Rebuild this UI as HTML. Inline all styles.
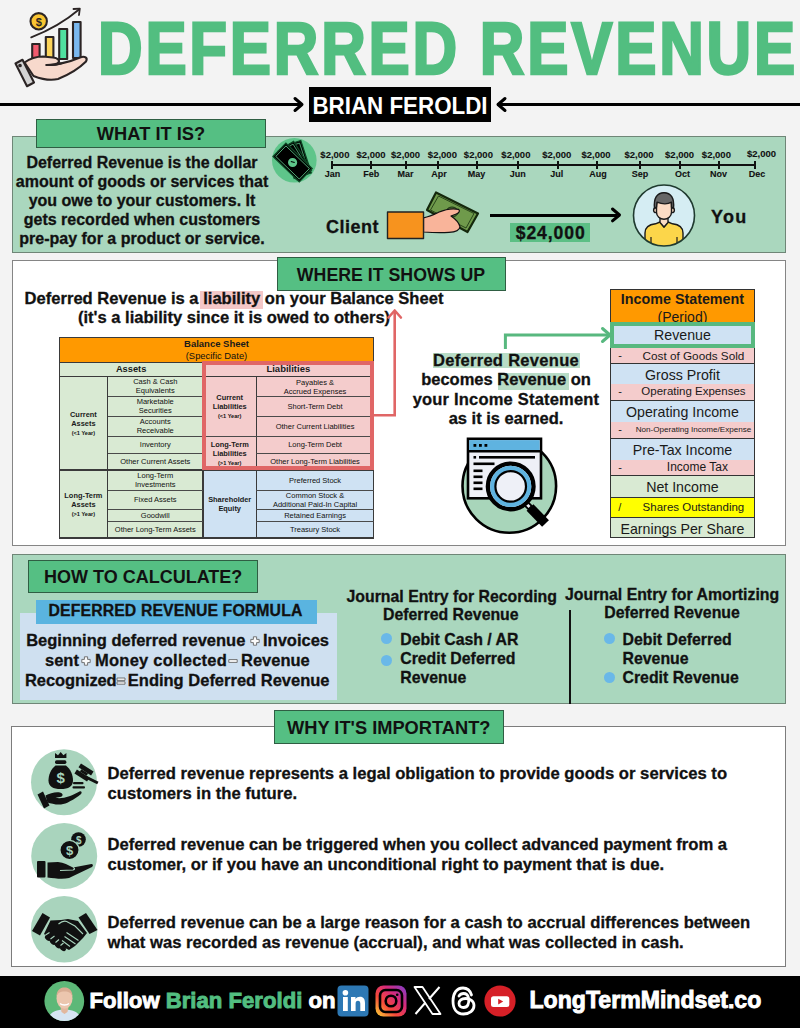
<!DOCTYPE html>
<html><head><meta charset="utf-8">
<style>
*{margin:0;padding:0;box-sizing:border-box}
html,body{width:800px;height:1028px;overflow:hidden}
body{position:relative;background:#f3f3f3;font-family:"Liberation Sans",sans-serif;color:#111}
.a{position:absolute}
.t{position:absolute;white-space:nowrap;font-weight:700}
.sec{position:absolute;border:1.5px solid #7c7c7c}
.hdr{position:absolute;background:#55bf83;border:1.5px solid #2f5e43;font-weight:700;text-align:center;color:#111;white-space:nowrap}
svg{position:absolute;overflow:visible}
.t{-webkit-text-stroke:0.3px currentColor}

</style></head><body>

<svg style="left:0;top:0" width="100" height="92" viewBox="0 0 100 92">
 <g stroke="#2b2424" stroke-width="2.1" stroke-linejoin="round" stroke-linecap="round">
  <rect x="32.2" y="44" width="7.4" height="14" fill="#f25a6e"/>
  <rect x="45.8" y="37" width="7.6" height="21" fill="#fcd45a"/>
  <rect x="59.2" y="29" width="8" height="30" fill="#4fe0a0"/>
  <rect x="73" y="22" width="7.6" height="36" fill="#7ab8ef"/>
  <path d="M24.5 62.5 C30 58.5 36 56.5 43 56.5 L53 57.5 C58 58 60 60.5 58.5 62.5 C57 64.5 52 65 46.5 65 C54 65.5 70 62 80 57.5 C85 55.5 88 58 86 61.5 C80 67.5 68 75 58 79 C50 81 40 78.5 33.5 76 Z" fill="#f7d9cc"/>
  <path d="M46.5 65 C52 65.2 58 64.5 61 63.5" fill="none"/>
  <path d="M15.5 63.5 L22.5 59.8 L34 82.5 L27 86.2 Z" fill="#d3d3d3"/>
  <circle cx="20" cy="65.5" r="0.8" fill="#2b2424"/>
  <circle cx="38.7" cy="21.3" r="8.2" fill="#f9c431"/>
  <path d="M31.2 37.4 C45 32 62 24 79 9.5" fill="none" stroke-width="1.8"/>
  <path d="M73.5 9 L79.8 8.6 L79 15" fill="none" stroke-width="1.8"/>
 </g>
 <text x="38.7" y="25.5" font-family="Liberation Sans" font-weight="700" font-size="11" text-anchor="middle" fill="#2b2424">$</text>
</svg>
<div class="t" id="title" style="left:97.5px;top:5.6px;font-size:74px;color:#52be80;transform-origin:0 0;transform:scaleX(0.835);letter-spacing:3.3px;-webkit-text-stroke:2.6px #52be80">DEFERRED REVENUE</div>
<div class="a" style="left:0;top:102.8px;width:301px;height:3px;background:#000"></div>
<svg style="left:292px;top:97.3px" width="14" height="16"><path d="M3 1.5 L10 7.5 L3 13.5" fill="none" stroke="#000" stroke-width="3" stroke-linecap="round" stroke-linejoin="round"/></svg>
<div class="a" style="left:497px;top:102.8px;width:303px;height:3px;background:#000"></div>
<svg style="left:494px;top:97.3px" width="14" height="16"><path d="M11 1.5 L4 7.5 L11 13.5" fill="none" stroke="#000" stroke-width="3" stroke-linecap="round" stroke-linejoin="round"/></svg>
<div class="a" style="left:308.7px;top:87px;width:182.8px;height:35px;background:#000"></div>
<div class="t" style="left:400px;top:86.5px;width:0;height:35.5px;line-height:36px;color:#fff;font-size:23px;-webkit-text-stroke:0"><span style="position:absolute;left:-200px;width:400px;text-align:center;transform:scaleX(0.972);top:1.5px">BRIAN FEROLDI</span></div>

<div class="sec" style="left:12px;top:135.5px;width:774px;height:117.5px;background:#aad7be;border-color:#6f8677"></div>
<div class="hdr" style="left:36px;top:118.5px;width:230px;height:29.5px;line-height:28px;font-size:18.3px">WHAT IT IS?</div>
<div class="t" style="left:14px;top:153px;width:256px;text-align:center;font-size:16px;line-height:19px">Deferred Revenue is the dollar<br>amount of goods or services that<br>you owe to your customers. It<br>gets recorded when customers<br>pre-pay for a product or service.</div>
<svg style="left:268px;top:134px" width="54" height="54" viewBox="0 0 54 54">
 <circle cx="26.3" cy="26.3" r="22.3" fill="#5ec58a"/>
 <g transform="translate(29.5 25.5) rotate(72)"><rect x="-17" y="-9" width="34" height="18" fill="#000" stroke="#0e4a26" stroke-width="1.2"/><rect x="-15" y="-7" width="30" height="14" fill="none" stroke="#5ec58a" stroke-width="0.7"/></g>
 <g transform="translate(27 26.5) rotate(58)"><rect x="-17" y="-9" width="34" height="18" fill="#000" stroke="#0e4a26" stroke-width="1.2"/><rect x="-15" y="-7" width="30" height="14" fill="none" stroke="#5ec58a" stroke-width="0.7"/></g>
 <g transform="translate(24.6 28.5) rotate(44)"><rect x="-18.3" y="-9.3" width="36.6" height="18.6" fill="#000" stroke="#0e4a26" stroke-width="1.2"/><rect x="-16.3" y="-7.3" width="32.6" height="14.6" fill="none" stroke="#5ec58a" stroke-width="0.8"/>
  <circle cx="0" cy="0" r="4.6" fill="#5ec58a"/><path d="M-2 0.5 L1.5 -1.5" stroke="#000" stroke-width="1.1"/></g>
</svg>
<div class="a" style="left:331px;top:163.5px;width:425px;height:2.2px;background:#111"></div>
<div class="t" style="left:309.9px;top:149.2px;width:50px;text-align:center;font-size:9.5px;-webkit-text-stroke:0.1px #111">$2,000</div>
<div class="a" style="left:330.5px;top:160.5px;width:2px;height:8px;background:#111"></div>
<div class="t" style="left:307.6px;top:168.5px;width:50px;text-align:center;font-size:9px;-webkit-text-stroke:0.1px #111">Jan</div>
<div class="t" style="left:346.0px;top:149.2px;width:50px;text-align:center;font-size:9.5px;-webkit-text-stroke:0.1px #111">$2,000</div>
<div class="a" style="left:370.0px;top:160.5px;width:2px;height:8px;background:#111"></div>
<div class="t" style="left:346.2px;top:168.5px;width:50px;text-align:center;font-size:9px;-webkit-text-stroke:0.1px #111">Feb</div>
<div class="t" style="left:380.6px;top:149.2px;width:50px;text-align:center;font-size:9.5px;-webkit-text-stroke:0.1px #111">$2,000</div>
<div class="a" style="left:404.5px;top:160.5px;width:2px;height:8px;background:#111"></div>
<div class="t" style="left:380.6px;top:168.5px;width:50px;text-align:center;font-size:9px;-webkit-text-stroke:0.1px #111">Mar</div>
<div class="t" style="left:417.4px;top:149.2px;width:50px;text-align:center;font-size:9.5px;-webkit-text-stroke:0.1px #111">$2,000</div>
<div class="a" style="left:437.2px;top:160.5px;width:2px;height:8px;background:#111"></div>
<div class="t" style="left:413.9px;top:168.5px;width:50px;text-align:center;font-size:9px;-webkit-text-stroke:0.1px #111">Apr</div>
<div class="t" style="left:453.4px;top:149.2px;width:50px;text-align:center;font-size:9.5px;-webkit-text-stroke:0.1px #111">$2,000</div>
<div class="a" style="left:475.7px;top:160.5px;width:2px;height:8px;background:#111"></div>
<div class="t" style="left:451.5px;top:168.5px;width:50px;text-align:center;font-size:9px;-webkit-text-stroke:0.1px #111">May</div>
<div class="t" style="left:490.9px;top:149.2px;width:50px;text-align:center;font-size:9.5px;-webkit-text-stroke:0.1px #111">$2,000</div>
<div class="a" style="left:517.0px;top:160.5px;width:2px;height:8px;background:#111"></div>
<div class="t" style="left:492.8px;top:168.5px;width:50px;text-align:center;font-size:9px;-webkit-text-stroke:0.1px #111">Jun</div>
<div class="t" style="left:531.8px;top:149.2px;width:50px;text-align:center;font-size:9.5px;-webkit-text-stroke:0.1px #111">$2,000</div>
<div class="a" style="left:556.5px;top:160.5px;width:2px;height:8px;background:#111"></div>
<div class="t" style="left:531.8px;top:168.5px;width:50px;text-align:center;font-size:9px;-webkit-text-stroke:0.1px #111">Jul</div>
<div class="t" style="left:571.0px;top:149.2px;width:50px;text-align:center;font-size:9.5px;-webkit-text-stroke:0.1px #111">$2,000</div>
<div class="a" style="left:596.0px;top:160.5px;width:2px;height:8px;background:#111"></div>
<div class="t" style="left:572.9px;top:168.5px;width:50px;text-align:center;font-size:9px;-webkit-text-stroke:0.1px #111">Aug</div>
<div class="t" style="left:614.0px;top:149.2px;width:50px;text-align:center;font-size:9.5px;-webkit-text-stroke:0.1px #111">$2,000</div>
<div class="a" style="left:639.0px;top:160.5px;width:2px;height:8px;background:#111"></div>
<div class="t" style="left:614.9px;top:168.5px;width:50px;text-align:center;font-size:9px;-webkit-text-stroke:0.1px #111">Sep</div>
<div class="t" style="left:654.6px;top:149.2px;width:50px;text-align:center;font-size:9.5px;-webkit-text-stroke:0.1px #111">$2,000</div>
<div class="a" style="left:679.3px;top:160.5px;width:2px;height:8px;background:#111"></div>
<div class="t" style="left:657.4px;top:168.5px;width:50px;text-align:center;font-size:9px;-webkit-text-stroke:0.1px #111">Oct</div>
<div class="t" style="left:691.4px;top:149.2px;width:50px;text-align:center;font-size:9.5px;-webkit-text-stroke:0.1px #111">$2,000</div>
<div class="a" style="left:717.5px;top:160.5px;width:2px;height:8px;background:#111"></div>
<div class="t" style="left:693.6px;top:168.5px;width:50px;text-align:center;font-size:9px;-webkit-text-stroke:0.1px #111">Nov</div>
<div class="t" style="left:736.5px;top:147.5px;width:50px;text-align:center;font-size:9.5px;-webkit-text-stroke:0.1px #111">$2,000</div>
<div class="a" style="left:754.2px;top:160.5px;width:2px;height:8px;background:#111"></div>
<div class="t" style="left:732.1px;top:168.5px;width:50px;text-align:center;font-size:9px;-webkit-text-stroke:0.1px #111">Dec</div>
<div class="t" style="left:326px;top:217.3px;font-size:18px;letter-spacing:0.5px">Client</div>
<svg style="left:384px;top:188px" width="100" height="55" viewBox="384 188 100 55">
 <g stroke="#111" stroke-width="1.2" stroke-linejoin="round">
  <path d="M436 192.5 L478 213.5 L467.5 232 L427 210 Z" fill="#6f9a4b" stroke="#14280c" stroke-width="2.2"/>
  <path d="M438.5 196 L474 213.5 L466 228 L430.5 210 Z" fill="none" stroke="#16300f" stroke-width="0.8"/>
  <ellipse cx="452" cy="212" rx="6" ry="5" fill="#5a7d3a" stroke="#16300f" stroke-width="1"/>
  <path d="M423.5 217.8 C430 216.5 434 214.5 438.5 212.3 C446 209 452 208 458.5 209.3 C460.3 210.8 459.3 213 456.3 214 L451 216 C455.5 219 459 223 460 226.8 C459.5 230.3 455 232 449 232.3 C440 232.8 432 232.5 423.5 232 Z" fill="#f9b49a"/>
  <rect x="387.5" y="212" width="36" height="26.5" fill="#f7931e" stroke="#222" stroke-width="1.4"/>
 </g>
</svg>
<div class="a" style="left:490px;top:213.9px;width:127px;height:3px;background:#000"></div>
<svg style="left:607px;top:206.4px" width="16" height="18"><path d="M5.5 3 L12.5 9 L5.5 14.8" fill="none" stroke="#000" stroke-width="3" stroke-linecap="round" stroke-linejoin="round"/></svg>
<div class="a" style="left:510.4px;top:223px;width:79.6px;height:19px;background:#5cbf85"></div>
<div class="t" style="left:510.4px;top:222.5px;width:79.6px;text-align:center;font-size:17.6px;line-height:20px;letter-spacing:0.9px;padding-left:1px">$24,000</div>
<svg style="left:630px;top:182px" width="68" height="68" viewBox="0 0 68 68">
 <defs><clipPath id="pc"><circle cx="34" cy="33.5" r="30.5"/></clipPath></defs>
 <circle cx="34" cy="33.5" r="30.5" fill="#d5edf3"/>
 <g clip-path="url(#pc)" stroke="#1a1a1a" stroke-width="1.4" stroke-linejoin="round">
  <path d="M15 70 L15 51 C15 45.5 19.5 42.5 25.5 41.8 L30 40 L34 45 L38 40 L42.5 41.8 C48.5 42.5 53 45.5 53 51 L53 70 Z" fill="#fcd64a"/>
  <path d="M30 35 L30 40.5 L34 45 L38 40.5 L38 35 Z" fill="#fbdcc4"/>
  <path d="M21 55 L21 70 M47 55 L47 70" stroke-width="1.2"/>
 </g>
 <g stroke="#1a1a1a" stroke-width="1.4" stroke-linejoin="round" transform="translate(0 -1.8)">
  <circle cx="26" cy="30" r="2.4" fill="#fbdcc4"/>
  <circle cx="42" cy="30" r="2.4" fill="#fbdcc4"/>
  <path d="M26.5 25 C26.5 16 30 13 34 13 C38 13 41.5 16 41.5 25 L41.5 32 C41.5 36 38 39 34 39 C30 39 26.5 36 26.5 32 Z" fill="#fbdcc4"/>
  <path d="M24.5 28 C23.5 18 27 12.5 34 12.5 C41 12.5 44.5 18 43.5 28 L41.5 27 L41.5 22 C38 24 32 24 27 22 L26.5 27 Z" fill="#666"/>
 </g>
 <circle cx="34" cy="33.5" r="30.5" fill="none" stroke="#1f3a2f" stroke-width="1.6"/>
</svg>
<div class="t" style="left:711px;top:207px;font-size:18px;letter-spacing:1.3px">You</div>

<div class="sec" style="left:12px;top:259.7px;width:774px;height:286.3px;background:#fff;border-color:#858585"></div>
<div class="hdr" style="left:276.5px;top:257px;width:229px;height:33.5px;line-height:34px;font-size:17.75px">WHERE IT SHOWS UP</div>
<div class="a" style="left:200px;top:291px;width:62.5px;height:18px;background:#f4c7c7"></div>
<div class="t" style="left:23px;top:288.6px;width:422px;text-align:center;font-size:16.57px;line-height:19.5px">Deferred Revenue is a liability on your Balance Sheet<br>(it's a liability since it is owed to others)</div>
<div class="a" style="left:59.30px;top:337.20px;width:314.40px;height:25.30px;background:#ff9900;display:flex;align-items:center;justify-content:center;text-align:center;font-size:7.5px;font-weight:400;line-height:11px;color:#111;"><div><b style="color:#1a1a1a;font-size:9.5px">Balance Sheet</b><br><span style="font-size:9.4px">(Specific Date)</span></div></div>
<div class="a" style="left:59.30px;top:362.50px;width:143.70px;height:14.00px;background:#d9ead3;display:flex;align-items:center;justify-content:center;text-align:center;font-size:7.5px;font-weight:400;line-height:8.4px;color:#111;"><div><b style="font-size:9.3px;color:#1a1a1a">Assets</b></div></div>
<div class="a" style="left:203.00px;top:362.50px;width:170.70px;height:14.00px;background:#f4cccc;display:flex;align-items:center;justify-content:center;text-align:center;font-size:7.5px;font-weight:400;line-height:8.4px;color:#111;"><div><b style="font-size:9.5px;color:#1a1a1a">Liabilities</b></div></div>
<div class="a" style="left:59.30px;top:376.50px;width:48.20px;height:93.50px;background:#d9ead3;display:flex;align-items:center;justify-content:center;text-align:center;font-size:7.4px;font-weight:400;line-height:9px;color:#111;"><div><b style="color:#1a1a1a">Current<br>Assets</b><br><b style="font-size:5.6px;line-height:7px">(&lt;1 Year)</b></div></div>
<div class="a" style="left:59.30px;top:470.00px;width:48.20px;height:68.00px;background:#d9ead3;display:flex;align-items:center;justify-content:center;text-align:center;font-size:7.4px;font-weight:400;line-height:9px;color:#111;"><div><b style="color:#1a1a1a">Long-Term<br>Assets</b><br><b style="font-size:5.6px;line-height:7px">(&gt;1 Year)</b></div></div>
<div class="a" style="left:107.50px;top:376.50px;width:95.50px;height:19.70px;background:#d9ead3;display:flex;align-items:center;justify-content:center;text-align:center;font-size:7.5px;font-weight:400;line-height:9px;color:#111;"><div>Cash &amp; Cash<br>Equivalents</div></div>
<div class="a" style="left:107.50px;top:396.20px;width:95.50px;height:20.05px;background:#d9ead3;display:flex;align-items:center;justify-content:center;text-align:center;font-size:7.5px;font-weight:400;line-height:9px;color:#111;"><div>Marketable<br>Securities</div></div>
<div class="a" style="left:107.50px;top:416.25px;width:95.50px;height:20.00px;background:#d9ead3;display:flex;align-items:center;justify-content:center;text-align:center;font-size:7.5px;font-weight:400;line-height:9px;color:#111;"><div>Accounts<br>Receivable</div></div>
<div class="a" style="left:107.50px;top:436.25px;width:95.50px;height:17.00px;background:#d9ead3;display:flex;align-items:center;justify-content:center;text-align:center;font-size:7.5px;font-weight:400;line-height:9px;color:#111;"><div>Inventory</div></div>
<div class="a" style="left:107.50px;top:453.25px;width:95.50px;height:16.75px;background:#d9ead3;display:flex;align-items:center;justify-content:center;text-align:center;font-size:7.5px;font-weight:400;line-height:9px;color:#111;"><div>Other Current Assets</div></div>
<div class="a" style="left:107.50px;top:470.00px;width:95.50px;height:20.00px;background:#d9ead3;display:flex;align-items:center;justify-content:center;text-align:center;font-size:7.5px;font-weight:400;line-height:9px;color:#111;"><div>Long-Term<br>Investments</div></div>
<div class="a" style="left:107.50px;top:490.00px;width:95.50px;height:19.25px;background:#d9ead3;display:flex;align-items:center;justify-content:center;text-align:center;font-size:7.5px;font-weight:400;line-height:9px;color:#111;"><div>Fixed Assets</div></div>
<div class="a" style="left:107.50px;top:509.25px;width:95.50px;height:12.00px;background:#d9ead3;display:flex;align-items:center;justify-content:center;text-align:center;font-size:7.5px;font-weight:400;line-height:9px;color:#111;"><div>Goodwill</div></div>
<div class="a" style="left:107.50px;top:521.25px;width:95.50px;height:16.75px;background:#d9ead3;display:flex;align-items:center;justify-content:center;text-align:center;font-size:7.5px;font-weight:400;line-height:9px;color:#111;"><div>Other Long-Term Assets</div></div>
<div class="a" style="left:203.00px;top:376.70px;width:53.40px;height:59.60px;background:#f4cccc;display:flex;align-items:center;justify-content:center;text-align:center;font-size:7.4px;font-weight:400;line-height:9px;color:#111;"><div><b style="color:#1a1a1a">Current<br>Liabilities</b><br><b style="font-size:5.6px;line-height:7px">(&lt;1 Year)</b></div></div>
<div class="a" style="left:203.00px;top:436.30px;width:53.40px;height:33.70px;background:#f4cccc;display:flex;align-items:center;justify-content:center;text-align:center;font-size:7.4px;font-weight:400;line-height:9px;color:#111;"><div><b style="color:#1a1a1a">Long-Term<br>Liabilities</b><br><b style="font-size:5.6px;line-height:7px">(&gt;1 Year)</b></div></div>
<div class="a" style="left:203.00px;top:470.00px;width:53.40px;height:67.40px;background:#cfe2f3;display:flex;align-items:center;justify-content:center;text-align:center;font-size:7.4px;font-weight:400;line-height:9px;color:#111;"><div><b style="color:#1a1a1a">Shareholder<br>Equity</b></div></div>
<div class="a" style="left:256.40px;top:376.70px;width:117.30px;height:19.70px;background:#f4cccc;display:flex;align-items:center;justify-content:center;text-align:center;font-size:7.5px;font-weight:400;line-height:9px;color:#111;"><div>Payables &amp;<br>Accrued Expenses</div></div>
<div class="a" style="left:256.40px;top:396.40px;width:117.30px;height:19.60px;background:#f4cccc;display:flex;align-items:center;justify-content:center;text-align:center;font-size:7.5px;font-weight:400;line-height:9px;color:#111;"><div>Short-Term Debt</div></div>
<div class="a" style="left:256.40px;top:416.00px;width:117.30px;height:20.30px;background:#f4cccc;display:flex;align-items:center;justify-content:center;text-align:center;font-size:7.5px;font-weight:400;line-height:9px;color:#111;"><div>Other Current Liabilities</div></div>
<div class="a" style="left:256.40px;top:436.30px;width:117.30px;height:17.10px;background:#f4cccc;display:flex;align-items:center;justify-content:center;text-align:center;font-size:7.5px;font-weight:400;line-height:9px;color:#111;"><div>Long-Term Debt</div></div>
<div class="a" style="left:256.40px;top:453.40px;width:117.30px;height:16.60px;background:#f4cccc;display:flex;align-items:center;justify-content:center;text-align:center;font-size:7.5px;font-weight:400;line-height:9px;color:#111;"><div>Other Long-Term Liabilities</div></div>
<div class="a" style="left:256.40px;top:470.00px;width:117.30px;height:20.00px;background:#cfe2f3;display:flex;align-items:center;justify-content:center;text-align:center;font-size:7.5px;font-weight:400;line-height:9px;color:#111;"><div>Preferred Stock</div></div>
<div class="a" style="left:256.40px;top:490.00px;width:117.30px;height:19.80px;background:#cfe2f3;display:flex;align-items:center;justify-content:center;text-align:center;font-size:7.5px;font-weight:400;line-height:9px;color:#111;"><div>Common Stock &amp;<br>Additional Paid-In Capital</div></div>
<div class="a" style="left:256.40px;top:509.80px;width:117.30px;height:11.80px;background:#cfe2f3;display:flex;align-items:center;justify-content:center;text-align:center;font-size:7.5px;font-weight:400;line-height:9px;color:#111;"><div>Retained Earnings</div></div>
<div class="a" style="left:256.40px;top:521.60px;width:117.30px;height:15.80px;background:#cfe2f3;display:flex;align-items:center;justify-content:center;text-align:center;font-size:7.5px;font-weight:400;line-height:9px;color:#111;"><div>Treasury Stock</div></div>
<div class="a" style="left:59.30px;top:336.60px;width:314.40px;height:1.2px;background:#3a3a3a"></div>
<div class="a" style="left:59.30px;top:361.90px;width:314.40px;height:1.2px;background:#3a3a3a"></div>
<div class="a" style="left:59.30px;top:376.00px;width:314.40px;height:1.2px;background:#3a3a3a"></div>
<div class="a" style="left:59.30px;top:469.40px;width:314.40px;height:1.2px;background:#3a3a3a"></div>
<div class="a" style="left:59.30px;top:537.40px;width:314.40px;height:1.2px;background:#3a3a3a"></div>
<div class="a" style="left:58.70px;top:337.20px;width:1.2px;height:200.80px;background:#3a3a3a"></div>
<div class="a" style="left:373.10px;top:337.20px;width:1.2px;height:200.80px;background:#3a3a3a"></div>
<div class="a" style="left:202.40px;top:362.50px;width:1.2px;height:175.50px;background:#3a3a3a"></div>
<div class="a" style="left:106.90px;top:376.50px;width:1.2px;height:161.50px;background:#3a3a3a"></div>
<div class="a" style="left:255.80px;top:376.50px;width:1.2px;height:161.50px;background:#3a3a3a"></div>
<div class="a" style="left:107.50px;top:395.70px;width:95.50px;height:1.0px;background:#4a4a4a"></div>
<div class="a" style="left:107.50px;top:415.75px;width:95.50px;height:1.0px;background:#4a4a4a"></div>
<div class="a" style="left:107.50px;top:435.75px;width:95.50px;height:1.0px;background:#4a4a4a"></div>
<div class="a" style="left:107.50px;top:452.75px;width:95.50px;height:1.0px;background:#4a4a4a"></div>
<div class="a" style="left:107.50px;top:489.50px;width:95.50px;height:1.0px;background:#4a4a4a"></div>
<div class="a" style="left:107.50px;top:508.75px;width:95.50px;height:1.0px;background:#4a4a4a"></div>
<div class="a" style="left:107.50px;top:520.75px;width:95.50px;height:1.0px;background:#4a4a4a"></div>
<div class="a" style="left:256.40px;top:395.90px;width:117.30px;height:1.0px;background:#4a4a4a"></div>
<div class="a" style="left:256.40px;top:415.50px;width:117.30px;height:1.0px;background:#4a4a4a"></div>
<div class="a" style="left:256.40px;top:452.90px;width:117.30px;height:1.0px;background:#4a4a4a"></div>
<div class="a" style="left:256.40px;top:489.50px;width:117.30px;height:1.0px;background:#4a4a4a"></div>
<div class="a" style="left:256.40px;top:509.30px;width:117.30px;height:1.0px;background:#4a4a4a"></div>
<div class="a" style="left:256.40px;top:521.10px;width:117.30px;height:1.0px;background:#4a4a4a"></div>
<div class="a" style="left:203.00px;top:435.80px;width:170.70px;height:1.0px;background:#4a4a4a"></div>
<div class="a" style="left:201.8px;top:360.7px;width:172px;height:109.7px;border:4px solid #e06666"></div>
<svg style="left:372px;top:305px" width="30" height="115"><path d="M1.7 110.3 L22.7 110.3 L22.7 7" fill="none" stroke="#e06666" stroke-width="2.6"/><path d="M16.5 12.5 L22.7 5.5 L28.9 12.5" fill="none" stroke="#e06666" stroke-width="2.6" stroke-linecap="round" stroke-linejoin="round"/></svg>
<div class="a" style="left:610.2px;top:288.5px;width:144.50px;height:34px;background:#ff9900;border:1.2px solid #333;text-align:center;color:#1a1a1a;padding-top:0px;line-height:17px"><b style="font-size:14.3px;">Income Statement</b><br><span style="font-size:14px;">(Period)</span></div>
<div class="a" style="left:610.2px;top:322.50px;width:144.50px;height:25.10px;background:#cfe2f3;border-left:1.2px solid #333;border-right:1.2px solid #333;"></div><div class="a" style="left:610.2px;top:322.50px;width:144.50px;height:25.10px;line-height:25.10px;text-align:center;font-size:14.2px;color:#1a1a1a;white-space:nowrap;padding-left:0px">Revenue</div>
<div class="a" style="left:610.2px;top:347.60px;width:144.50px;height:15.40px;background:#f4cccc;border-left:1.2px solid #333;border-right:1.2px solid #333;"></div><div class="a" style="left:610.2px;top:347.60px;width:144.50px;height:15.40px;line-height:15.40px;text-align:center;font-size:11.75px;color:#1a1a1a;white-space:nowrap;padding-left:22px">Cost of Goods Sold</div><div class="a" style="left:618.2px;top:347.60px;height:15.40px;line-height:15.40px;font-size:11px;color:#1a1a1a">-</div>
<div class="a" style="left:610.2px;top:363.00px;width:144.50px;height:21.10px;background:#cfe2f3;border-left:1.2px solid #333;border-right:1.2px solid #333;border-top:1.6px solid #333"></div><div class="a" style="left:610.2px;top:363.00px;width:144.50px;height:21.10px;line-height:24.10px;text-align:center;font-size:14.2px;color:#1a1a1a;white-space:nowrap;padding-left:0px">Gross Profit</div>
<div class="a" style="left:610.2px;top:384.10px;width:144.50px;height:15.90px;background:#f4cccc;border-left:1.2px solid #333;border-right:1.2px solid #333;"></div><div class="a" style="left:610.2px;top:384.10px;width:144.50px;height:15.90px;line-height:15.90px;text-align:center;font-size:11.5px;color:#1a1a1a;white-space:nowrap;padding-left:22px">Operating Expenses</div><div class="a" style="left:618.2px;top:384.10px;height:15.90px;line-height:15.90px;font-size:11px;color:#1a1a1a">-</div>
<div class="a" style="left:610.2px;top:400.00px;width:144.50px;height:22.30px;background:#cfe2f3;border-left:1.2px solid #333;border-right:1.2px solid #333;border-top:1.6px solid #333"></div><div class="a" style="left:610.2px;top:400.00px;width:144.50px;height:22.30px;line-height:25.30px;text-align:center;font-size:14.2px;color:#1a1a1a;white-space:nowrap;padding-left:0px">Operating Income</div>
<div class="a" style="left:610.2px;top:422.30px;width:144.50px;height:15.95px;background:#f4cccc;border-left:1.2px solid #333;border-right:1.2px solid #333;"></div><div class="a" style="left:610.2px;top:422.30px;width:144.50px;height:15.95px;line-height:15.95px;text-align:center;font-size:8.1px;color:#1a1a1a;white-space:nowrap;padding-left:22px">Non-Operating Income/Expense</div><div class="a" style="left:618.2px;top:422.30px;height:15.95px;line-height:15.95px;font-size:11px;color:#1a1a1a">-</div>
<div class="a" style="left:610.2px;top:438.25px;width:144.50px;height:21.25px;background:#cfe2f3;border-left:1.2px solid #333;border-right:1.2px solid #333;border-top:1.6px solid #333"></div><div class="a" style="left:610.2px;top:438.25px;width:144.50px;height:21.25px;line-height:24.25px;text-align:center;font-size:14.2px;color:#1a1a1a;white-space:nowrap;padding-left:0px">Pre-Tax Income</div>
<div class="a" style="left:610.2px;top:459.50px;width:144.50px;height:15.90px;background:#f4cccc;border-left:1.2px solid #333;border-right:1.2px solid #333;"></div><div class="a" style="left:610.2px;top:459.50px;width:144.50px;height:15.90px;line-height:15.90px;text-align:center;font-size:12px;color:#1a1a1a;white-space:nowrap;padding-left:30px">Income Tax</div><div class="a" style="left:618.2px;top:459.50px;height:15.90px;line-height:15.90px;font-size:11px;color:#1a1a1a">-</div>
<div class="a" style="left:610.2px;top:475.40px;width:144.50px;height:21.30px;background:#d9ead3;border-left:1.2px solid #333;border-right:1.2px solid #333;border-top:1.6px solid #333"></div><div class="a" style="left:610.2px;top:475.40px;width:144.50px;height:21.30px;line-height:24.30px;text-align:center;font-size:14.2px;color:#1a1a1a;white-space:nowrap;padding-left:0px">Net Income</div>
<div class="a" style="left:610.2px;top:496.70px;width:144.50px;height:20.20px;background:#ffff00;border-left:1.2px solid #333;border-right:1.2px solid #333;border-top:1.6px solid #333"></div><div class="a" style="left:610.2px;top:496.70px;width:144.50px;height:20.20px;line-height:20.20px;text-align:center;font-size:11.5px;color:#1a1a1a;white-space:nowrap;padding-left:22px">Shares Outstanding</div><div class="a" style="left:618.2px;top:496.70px;height:20.20px;line-height:20.20px;font-size:11px;color:#1a1a1a">/</div>
<div class="a" style="left:610.2px;top:516.90px;width:144.50px;height:21.20px;background:#d9ead3;border-left:1.2px solid #333;border-right:1.2px solid #333;border-top:1.6px solid #333;border-bottom:1.2px solid #333"></div><div class="a" style="left:610.2px;top:516.90px;width:144.50px;height:21.20px;line-height:24.20px;text-align:center;font-size:14.2px;color:#1a1a1a;white-space:nowrap;padding-left:0px">Earnings Per Share</div>
<div class="a" style="left:609.7px;top:322px;width:145.50px;height:26px;border:4px solid #58b87f"></div>
<svg style="left:500px;top:326px" width="115" height="28"><path d="M5.4 23 L5.4 9 L109 9" fill="none" stroke="#58b87f" stroke-width="3"/><path d="M102.5 2.5 L110 9 L102.5 15.5" fill="none" stroke="#58b87f" stroke-width="3" stroke-linecap="round" stroke-linejoin="round"/></svg>
<div class="a" style="left:433.4px;top:352.9px;width:147px;height:15.6px;background:#b8dcc6"></div>
<div class="a" style="left:497.6px;top:373px;width:71.4px;height:16.5px;background:#b8dcc6"></div>
<div class="t" style="left:400px;top:350.6px;width:212px;text-align:center;font-size:16.5px;line-height:19.5px"><span style="letter-spacing:0.3px">Deferred Revenue</span><br>becomes Revenue on<br><span style="letter-spacing:0.2px">your Income Statement</span><br>as it is earned.</div>
<svg style="left:455px;top:432px" width="110" height="105" viewBox="455 432 110 105">
 <circle cx="509.3" cy="486" r="46.8" fill="#a8d5ba" stroke="#000" stroke-width="2.6"/>
 <rect x="468" y="438.8" width="73" height="59.5" fill="#eef0f7" stroke="#000" stroke-width="2.6"/>
 <rect x="469.3" y="440.1" width="70.4" height="10.5" fill="#5fb3e0"/>
 <path d="M468 451.2 L541 451.2" stroke="#000" stroke-width="2.4"/>
 <g fill="#000"><rect x="473.5" y="444" width="2.8" height="2.8"/><rect x="479" y="444" width="2.8" height="2.8"/><rect x="484.5" y="444" width="2.8" height="2.8"/>
  <rect x="473.5" y="456" width="2.6" height="2.6"/><rect x="479" y="456" width="56" height="2.6"/><rect x="473.5" y="462.5" width="21" height="2.6"/>
  <rect x="473.5" y="469.5" width="9" height="2.6"/><rect x="473.5" y="475.5" width="9" height="2.6"/><rect x="473.5" y="481.5" width="9" height="2.6"/><rect x="473.5" y="487.5" width="9" height="2.6"/></g>
 <path d="M524.5 502 L530.5 508" stroke="#000" stroke-width="6.5"/>
 <path d="M525.5 503 L529.5 507" stroke="#eef0f7" stroke-width="2.6"/>
 <path d="M530 507.5 L545.5 523.5" stroke="#000" stroke-width="9.5"/>
 <circle cx="510.7" cy="486.4" r="22.8" fill="#eef0f7" stroke="#000" stroke-width="4.4"/>
 <circle cx="510.7" cy="486.4" r="18.2" fill="none" stroke="#5fb3e0" stroke-width="4.8"/>
 <circle cx="510.7" cy="486.4" r="15.3" fill="none" stroke="#000" stroke-width="2.2"/>
</svg>

<div class="sec" style="left:12px;top:554px;width:774px;height:150px;background:#aad7be;border-color:#6f8677"></div>
<div class="hdr" style="left:28.4px;top:560px;width:229.5px;height:33.2px;line-height:33px;font-size:18px">HOW TO CALCULATE?</div>
<div class="a" style="left:20.3px;top:612.5px;width:316.3px;height:87.8px;background:#cfe0f0"></div>
<div class="a" style="left:36px;top:600.4px;width:281.3px;height:23.4px;background:#5ab4e0"></div>
<div class="t" style="left:25.50px;top:602.83px;width:300px;text-align:center;font-size:15.8px;line-height:15.8px;font-weight:700;color:#111;letter-spacing:0.12px">DEFERRED REVENUE FORMULA</div>
<div class="t" style="left:26.20px;top:631.83px;font-size:16.5px;line-height:16.5px;font-weight:700;color:#111;">Beginning deferred revenue</div>
<svg style="left:249.2px;top:634.5px" width="12" height="12" viewBox="-6 -6 12 12"><path d="M-1.6 -4.2 H1.6 V-1.6 H4.2 V1.6 H1.6 V4.2 H-1.6 V1.6 H-4.2 V-1.6 H-1.6 Z" fill="#fafafa" stroke="#666" stroke-width="0.9"/></svg>
<div class="t" style="left:263.00px;top:631.83px;font-size:16.5px;line-height:16.5px;font-weight:700;color:#111;">Invoices</div>
<div class="t" style="left:45.00px;top:651.53px;font-size:16.5px;line-height:16.5px;font-weight:700;color:#111;">sent</div>
<svg style="left:80.0px;top:654.5px" width="12" height="12" viewBox="-6 -6 12 12"><path d="M-1.6 -4.2 H1.6 V-1.6 H4.2 V1.6 H1.6 V4.2 H-1.6 V1.6 H-4.2 V-1.6 H-1.6 Z" fill="#fafafa" stroke="#666" stroke-width="0.9"/></svg>
<div class="t" style="left:95.00px;top:651.53px;font-size:16.5px;line-height:16.5px;font-weight:700;color:#111;letter-spacing:0.25px">Money collected</div>
<svg style="left:227.2px;top:655.0px" width="12" height="12" viewBox="-6 -6 12 12"><path d="M-4.2 -1.4 H4.2 V1.4 H-4.2 Z" fill="#fafafa" stroke="#666" stroke-width="0.9"/></svg>
<div class="t" style="left:241.00px;top:651.53px;font-size:16.5px;line-height:16.5px;font-weight:700;color:#111;">Revenue</div>
<div class="t" style="left:25.00px;top:672.03px;font-size:16.5px;line-height:16.5px;font-weight:700;color:#111;letter-spacing:-0.1px">Recognized</div>
<svg style="left:115.2px;top:675.3px" width="12" height="12" viewBox="-6 -6 12 12"><path d="M-4 -3 H4 V-0.6 H-4 Z M-4 0.8 H4 V3.2 H-4 Z" fill="#fafafa" stroke="#666" stroke-width="0.9"/></svg>
<div class="t" style="left:127.80px;top:672.03px;font-size:16.5px;line-height:16.5px;font-weight:700;color:#111;">Ending Deferred Revenue</div>
<div class="t" style="left:346.50px;top:588.98px;font-size:15.85px;line-height:15.85px;font-weight:700;color:#111;">Journal Entry for Recording</div>
<div class="t" style="left:383.00px;top:606.83px;font-size:15.85px;line-height:15.85px;font-weight:700;color:#111;">Deferred Revenue</div>
<div class="a" style="left:381.3px;top:633px;width:11px;height:11px;border-radius:50%;background:#6ab8e8"></div>
<div class="a" style="left:381.3px;top:654.5px;width:11px;height:11px;border-radius:50%;background:#6ab8e8"></div>
<div class="t" style="left:400.20px;top:632.18px;font-size:15.85px;line-height:15.85px;font-weight:700;color:#111;">Debit Cash / AR</div>
<div class="t" style="left:400.20px;top:651.38px;font-size:15.85px;line-height:15.85px;font-weight:700;color:#111;">Credit Deferred</div>
<div class="t" style="left:400.20px;top:669.58px;font-size:15.85px;line-height:15.85px;font-weight:700;color:#111;">Revenue</div>
<div class="a" style="left:569.2px;top:610px;width:1.8px;height:93.5px;background:#111"></div>
<div class="t" style="left:565.00px;top:587.08px;font-size:15.85px;line-height:15.85px;font-weight:700;color:#111;">Journal Entry for Amortizing</div>
<div class="t" style="left:604.20px;top:605.08px;font-size:15.85px;line-height:15.85px;font-weight:700;color:#111;">Deferred Revenue</div>
<div class="a" style="left:603.5px;top:633px;width:11px;height:11px;border-radius:50%;background:#6ab8e8"></div>
<div class="a" style="left:603.5px;top:672px;width:11px;height:11px;border-radius:50%;background:#6ab8e8"></div>
<div class="t" style="left:622.50px;top:632.18px;font-size:15.85px;line-height:15.85px;font-weight:700;color:#111;">Debit Deferred</div>
<div class="t" style="left:622.50px;top:651.08px;font-size:15.85px;line-height:15.85px;font-weight:700;color:#111;">Revenue</div>
<div class="t" style="left:622.50px;top:669.58px;font-size:15.85px;line-height:15.85px;font-weight:700;color:#111;">Credit Revenue</div>

<div class="sec" style="left:11.3px;top:726.4px;width:774.5px;height:241px;background:#fff"></div>
<div class="hdr" style="left:274px;top:710px;width:229.5px;height:34px;line-height:34px;font-size:18.25px">WHY IT'S IMPORTANT?</div>
<svg style="left:28px;top:746px" width="72" height="72" viewBox="0 0 72 72">
 <circle cx="36" cy="36.2" r="33" fill="#a9d4bd"/>
 <g fill="#111">
  <path d="M27 7 L30 9.2 L32.7 6 L35.4 9.2 L38.4 7 L38.4 12 L27 12 Z"/>
  <rect x="27" y="14.3" width="11.4" height="3.6" rx="1.6"/>
  <path d="M27.5 19.5 L38 19.5 C42.5 23 45 29 45 34.5 C45 40.5 40.5 43 32.7 43 C24.9 43 20.5 40.5 20.5 34.5 C20.5 29 23 23 27.5 19.5 Z"/>
  <g transform="translate(56 26.5) rotate(33)"><rect x="-7.5" y="-6" width="15" height="4.6"/><rect x="-7.5" y="1.4" width="15" height="4.6"/><rect x="-4" y="-1.4" width="8" height="2.8"/></g>
  <path d="M59 30 L70.5 35.8 L69.2 38.2 L57.5 32.5 Z"/>
  <rect x="45" y="36" width="10.5" height="2.2" rx="1"/>
  <rect x="44.5" y="40.2" width="12.5" height="2.4" rx="1"/>
  <path d="M17.5 49.5 C22 47 28 45.5 32 46.5 C35.5 47.5 35.5 50.5 32 51 L27.5 51.8 C34 53.5 44 50 51.5 45.5 C53.5 44.8 54.5 46.8 52.8 48.3 C46 53.5 38.5 58 33 58.5 C28 59 23 57.5 19.5 56.5 Z"/>
  <path d="M9.5 48.5 L15 45.5 L21.5 59.5 L16 62.5 Z"/>
 </g>
 <text x="32.7" y="36.5" font-family="Liberation Sans" font-weight="700" font-size="15" text-anchor="middle" fill="#a9d4bd">$</text>
</svg>
<svg style="left:28px;top:820px" width="72" height="72" viewBox="0 0 72 72">
 <circle cx="36.2" cy="36" r="33" fill="#a9d4bd"/>
 <g fill="#111">
  <circle cx="50.5" cy="19.5" r="7.3"/>
  <circle cx="41.5" cy="30" r="9.6" stroke="#a9d4bd" stroke-width="1.3"/>
  <rect x="9" y="41" width="8.5" height="16.5" rx="1"/>
  <path d="M19.5 42.5 L30 42 C36 42.5 40 45 45 47.5 L63.5 44 C65 44 65.5 46 64 47 L41 58 C35 59.5 27 58.5 19.5 57.5 Z"/>
 </g>
 <path d="M32 50.5 L45 50 C47 49.8 47 48 45 47.5" fill="none" stroke="#a9d4bd" stroke-width="1.2"/>
 <text x="41.5" y="35" font-family="Liberation Sans" font-weight="700" font-size="13" text-anchor="middle" fill="#a9d4bd">$</text>
 <text x="50.8" y="23.5" font-family="Liberation Sans" font-weight="700" font-size="10" text-anchor="middle" fill="#a9d4bd">$</text>
</svg>
<svg style="left:28px;top:893px" width="72" height="72" viewBox="0 0 72 72">
 <circle cx="36.2" cy="36.2" r="33.3" fill="#a9d4bd"/>
 <g fill="#111">
  <path d="M14.5 20 L22 24.5 L12 42.5 L4 38 Z"/>
  <path d="M58 20 L50.5 24.5 L61.5 41 L69.5 37 Z"/>
  <path d="M22.5 27.5 L33 27 L40 26 L50 28 L59 40 L55 45 L47 53 L41 57 L35 54 L28 50 L21 45 L16 41 Z"/>
  <ellipse cx="20" cy="45" rx="3.4" ry="2.3" transform="rotate(35 20 45)"/>
  <ellipse cx="25" cy="49" rx="3.4" ry="2.3" transform="rotate(35 25 49)"/>
  <ellipse cx="30" cy="52.5" rx="3.4" ry="2.3" transform="rotate(35 30 52.5)"/>
  <ellipse cx="35" cy="55.5" rx="3.2" ry="2.2" transform="rotate(35 35 55.5)"/>
 </g>
 <g stroke="#a9d4bd" stroke-width="1.1" fill="none">
  <path d="M30.5 31 C34 28 38 27.5 40.5 29.5 L47 33 L55 41"/>
  <path d="M38.5 39.5 L50.5 47.5 M36.5 43.5 L47.5 51 M34 47.5 L42 53.5"/>
  <path d="M17.5 42 L21.5 39.5 M22.5 46 L26.5 43 M27.5 49.5 L31 46.5 M32.5 52.5 L35.5 50"/>
 </g>
</svg>
<div class="t" style="left:107.50px;top:765.51px;font-size:16.65px;line-height:16.65px;font-weight:700;color:#111;">Deferred revenue represents a legal obligation to provide goods or services to</div>
<div class="t" style="left:107.50px;top:785.81px;font-size:16.65px;line-height:16.65px;font-weight:700;color:#111;">customers in the future.</div>
<div class="t" style="left:107.50px;top:836.51px;font-size:16.65px;line-height:16.65px;font-weight:700;color:#111;">Deferred revenue can be triggered when you collect advanced payment from a</div>
<div class="t" style="left:107.50px;top:857.01px;font-size:16.65px;line-height:16.65px;font-weight:700;color:#111;">customer, or if you have an unconditional right to payment that is due.</div>
<div class="t" style="left:107.50px;top:915.31px;font-size:16.65px;line-height:16.65px;font-weight:700;color:#111;">Deferred revenue can be a large reason for a cash to accrual differences between</div>
<div class="t" style="left:107.50px;top:935.31px;font-size:16.65px;line-height:16.65px;font-weight:700;color:#111;">what was recorded as revenue (accrual), and what was collected in cash.</div>

<div class="a" style="left:0;top:976px;width:800px;height:52px;background:#000"></div>
<svg style="left:44px;top:981px" width="41" height="41" viewBox="0 0 41 41">
 <defs><clipPath id="av"><circle cx="20.3" cy="20" r="19.9"/></clipPath></defs>
 <circle cx="20.3" cy="20" r="19.9" fill="#5db878"/>
 <g clip-path="url(#av)">
  <path d="M3 41 C5 31 12 28.5 20.5 28.5 C29 28.5 36 31 38 41 Z" fill="#d6e4f2"/>
  <path d="M16.5 26 L24.5 26 L23.5 31 L20.5 33 L17.5 31 Z" fill="#e2b79e"/>
  <ellipse cx="20.5" cy="17.5" rx="8" ry="10.3" fill="#ecc6ae"/>
  <path d="M12.5 16 C12.5 9 16 6.5 20.5 6.5 C25 6.5 28.5 9 28.5 16 C27.5 12 25 10.5 20.5 10.5 C16 10.5 13.5 12 12.5 16 Z" fill="#d9ad93"/>
  <path d="M16 22.5 C18 24.5 23 24.5 25 22.5" fill="none" stroke="#fff" stroke-width="1.3"/>
 </g>
</svg>
<div class="t" style="left:89.50px;top:990.25px;font-size:22.15px;line-height:22.15px;font-weight:700;color:#fff;-webkit-text-stroke:0.9px currentColor">Follow <span style="color:#52be80">Brian Feroldi</span> on</div>
<svg style="left:337px;top:985px" width="32" height="32" viewBox="0 0 32 32">
 <rect x="0.5" y="0.5" width="31" height="31" rx="4" fill="#2d78b4"/>
 <rect x="6" y="12" width="4.8" height="14" fill="#fff"/><circle cx="8.4" cy="7.8" r="2.8" fill="#fff"/>
 <path d="M14 12 H18.5 V14 C19.5 12.5 21 11.7 23 11.7 C26.5 11.7 28 14 28 18 V26 H23.3 V18.8 C23.3 16.8 22.6 15.8 21 15.8 C19.3 15.8 18.6 17 18.6 19 V26 H14 Z" fill="#fff"/>
</svg>
<svg style="left:374.5px;top:985px" width="32" height="32" viewBox="0 0 32 32">
 <defs><linearGradient id="ig" x1="0" y1="1" x2="1" y2="0"><stop offset="0" stop-color="#fdd835"/><stop offset="0.35" stop-color="#f5493a"/><stop offset="0.65" stop-color="#d62a7a"/><stop offset="1" stop-color="#7b3fd0"/></linearGradient></defs>
 <rect x="0.5" y="0.5" width="31" height="31" rx="8" fill="url(#ig)"/>
 <rect x="5" y="5" width="22" height="22" rx="5.5" fill="none" stroke="#000" stroke-width="2.6"/>
 <circle cx="16" cy="16" r="5.3" fill="none" stroke="#000" stroke-width="2.6"/>
 <circle cx="22.2" cy="9.8" r="1.3" fill="#000"/>
</svg>
<svg style="left:413px;top:986px" width="29" height="29" viewBox="0 0 29 29">
 <path d="M1.5 1 H9.5 L27.5 28 H19.5 Z" fill="none" stroke="#fff" stroke-width="1.8" stroke-linejoin="round"/>
 <path d="M26.5 1 L16 13 M2.5 28 L12.5 16.5" stroke="#fff" stroke-width="2"/>
</svg>
<svg style="left:450px;top:986px" width="28" height="30" viewBox="0 0 28 30">
 <path d="M21.5 9 C20 4 16.5 2 13 2 C6.5 2 3 7.5 3 15 C3 22.5 6.5 28 13.5 28 C19.5 28 24 24.5 24 19.5 C24 15 20 12.5 15.5 12.5 C11.5 12.5 9 14.5 9 17.5 C9 20 11 21.5 13.5 21.5 C17.5 21.5 19.5 18 18.5 12 C18 9 16 7.5 13.5 7.5 C11.5 7.5 10 8.5 9 10" fill="none" stroke="#fff" stroke-width="2.8" stroke-linecap="round"/>
</svg>
<svg style="left:483.5px;top:985px" width="32" height="32" viewBox="0 0 32 32">
 <circle cx="16" cy="16" r="15.6" fill="#d62027"/>
 <rect x="7" y="11.2" width="18.3" height="10.8" rx="2.5" fill="#fff"/>
 <path d="M14.2 13.8 L19.2 16.6 L14.2 19.4 Z" fill="#d62027"/>
</svg>
<div class="t" style="left:529.50px;top:989.45px;font-size:23.1px;line-height:23.1px;font-weight:700;color:#fff;-webkit-text-stroke:0.9px currentColor">LongTermMindset.co</div>

</body></html>
